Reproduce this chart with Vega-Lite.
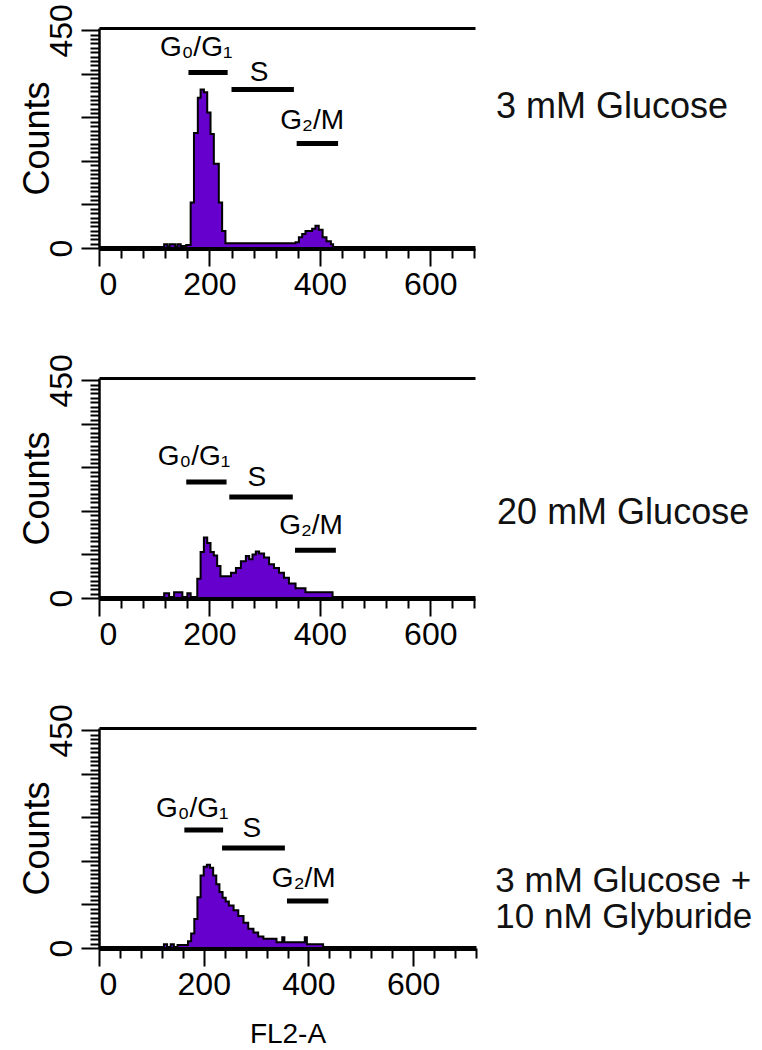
{
  "$schema": "https://vega.github.io/schema/vega-lite/v6.json",
  "background": "white",
  "padding": {"top": 3, "left": 19, "right": 0, "bottom": 0},
  "spacing": 130,
  "bounds": "flush",
  "config": {
    "view": {"stroke": null},
    "axis": {"labelColor": "black", "tickColor": "black", "domainColor": "black", "titleColor": "black", "grid": false, "labelFont": "Liberation Sans", "titleFont": "Liberation Sans", "titleFontWeight": "normal"}
  },
  "datasets": {
    "h1": [{"x":112,"y":0},{"x":118,"y":8},{"x":124,"y":0},{"x":128,"y":8},{"x":138,"y":0},{"x":142,"y":8},{"x":148,"y":4},{"x":158,"y":6},{"x":166,"y":94},{"x":172,"y":238},{"x":179,"y":311},{"x":184,"y":328},{"x":190,"y":322},{"x":196,"y":280},{"x":202,"y":236},{"x":208,"y":174},{"x":217,"y":94},{"x":223,"y":35},{"x":229,"y":10},{"x":356,"y":12},{"x":362,"y":22},{"x":368,"y":29},{"x":374,"y":35},{"x":386,"y":40},{"x":392,"y":46},{"x":398,"y":38},{"x":405,"y":22},{"x":412,"y":14},{"x":420,"y":8},{"x":424,"y":0}],
    "h2": [{"x":112,"y":0},{"x":118,"y":10},{"x":127,"y":0},{"x":136,"y":12},{"x":151,"y":0},{"x":160,"y":10},{"x":166,"y":0},{"x":178,"y":40},{"x":184,"y":95},{"x":190,"y":125},{"x":196,"y":114},{"x":202,"y":95},{"x":208,"y":88},{"x":214,"y":66},{"x":220,"y":45},{"x":239,"y":52},{"x":248,"y":62},{"x":257,"y":76},{"x":266,"y":87},{"x":272,"y":80},{"x":278,"y":90},{"x":284,"y":96},{"x":290,"y":92},{"x":299,"y":84},{"x":308,"y":70},{"x":317,"y":62},{"x":326,"y":52},{"x":335,"y":42},{"x":344,"y":30},{"x":356,"y":20},{"x":374,"y":12},{"x":423,"y":0}],
    "h3": [{"x":118,"y":0},{"x":124,"y":8},{"x":130,"y":0},{"x":137,"y":8},{"x":143,"y":0},{"x":150,"y":6},{"x":162,"y":6},{"x":170,"y":14},{"x":176,"y":30},{"x":182,"y":60},{"x":188,"y":105},{"x":194,"y":150},{"x":200,"y":168},{"x":206,"y":172},{"x":212,"y":166},{"x":218,"y":150},{"x":224,"y":132},{"x":230,"y":116},{"x":236,"y":104},{"x":242,"y":96},{"x":248,"y":88},{"x":257,"y":78},{"x":266,"y":66},{"x":276,"y":52},{"x":285,"y":40},{"x":295,"y":32},{"x":304,"y":24},{"x":314,"y":19},{"x":339,"y":12},{"x":350,"y":22},{"x":354,"y":12},{"x":393,"y":22},{"x":397,"y":8},{"x":428,"y":0}],
    "b1": [{"x":162,"x2":233,"y":363},{"x":240,"x2":353,"y":328},{"x":358,"x2":433,"y":216}],
    "l1": [{"x":176,"y":397,"t":"G₀/G₁"},{"x":290,"y":345,"t":"S"},{"x":386,"y":246,"t":"G₂/M"}],
    "c1": [{"x":719,"y":269,"t":"3 mM Glucose"}],
    "b2": [{"x":158,"x2":231,"y":240},{"x":236,"x2":351,"y":209},{"x":355,"x2":429,"y":99}],
    "l2": [{"x":172,"y":275,"t":"G₀/G₁"},{"x":286,"y":232,"t":"S"},{"x":384,"y":132,"t":"G₂/M"}],
    "c2": [{"x":721,"y":153,"t":"20 mM Glucose"}],
    "b3": [{"x":163,"x2":237,"y":244},{"x":235,"x2":355,"y":207},{"x":359,"x2":438,"y":97}],
    "l3": [{"x":178,"y":271,"t":"G₀/G₁"},{"x":292,"y":230,"t":"S"},{"x":391,"y":126,"t":"G₂/M"}],
    "c3": [{"x":757,"y":116,"t":"3 mM Glucose +"},{"x":757,"y":41,"t":"10 nM Glyburide"}]
  },
  "vconcat": [
    {
      "width": 376, "height": 220,
      "resolve": {"axis": {"x": "independent"}},
      "encoding": {"y": {"field": "y", "type": "quantitative", "scale": {"domain": [0, 455], "nice": false}, "axis": {"title": "Counts", "titleFontSize": 36, "titlePadding": -11, "values": [0,9,18,27,36,45,54,63,72,81,90,99,108,117,126,135,144,153,162,171,180,189,198,207,216,225,234,243,252,261,270,279,288,297,306,315,324,333,342,351,360,369,378,387,396,405,414,423,432,441,450], "labelExpr": "datum.value == 0 || datum.value == 450 ? datum.label : ''", "labelAngle": -90, "labelAlign": "center", "labelBaseline": "bottom", "labelFontSize": 32, "labelPadding": 3, "tickWidth": 2, "tickSize": {"condition": {"test": "datum.value % 90 == 0", "value": 18}, "value": 9}, "domainWidth": 2.5}}},
      "layer": [
        {"data": {"name": "h1"}, "mark": {"type": "area", "interpolate": "step-after", "fill": "#6600cc", "stroke": "black", "strokeWidth": 2},
         "encoding": {"x": {"field": "x", "type": "quantitative", "scale": {"domain": [0, 681], "nice": false, "zero": false}, "axis": {"title": null, "values": [0,40,80,120,160,200,240,280,320,360,400,440,480,520,560,600,640,680], "labelExpr": "datum.value % 200 == 0 ? datum.label : ''", "labelFontSize": 32, "labelPadding": 3, "tickWidth": 2, "tickSize": {"condition": {"test": "datum.value % 200 == 0", "value": 18}, "value": 10}, "domainWidth": 5}}}},
        {"data": {"name": "b1"}, "mark": {"type": "rule", "strokeWidth": 5, "color": "black"},
         "encoding": {"x": {"field": "x", "type": "quantitative", "axis": {"orient": "top", "labels": false, "ticks": false, "title": null, "domainWidth": 3}}, "x2": {"field": "x2"}}},
        {"data": {"name": "l1"}, "mark": {"type": "text", "font": "Liberation Sans", "fontSize": 28, "align": "center", "baseline": "alphabetic", "color": "black"},
         "encoding": {"x": {"field": "x", "type": "quantitative", "axis": null}, "text": {"field": "t"}}},
        {"data": {"name": "c1"}, "mark": {"type": "text", "font": "Liberation Sans", "fontSize": 36, "align": "left", "baseline": "alphabetic", "color": "#111111"},
         "encoding": {"x": {"field": "x", "type": "quantitative", "axis": null}, "text": {"field": "t"}}}
      ]
    },
    {
      "width": 376, "height": 220,
      "resolve": {"axis": {"x": "independent"}},
      "encoding": {"y": {"field": "y", "type": "quantitative", "scale": {"domain": [0, 455], "nice": false}, "axis": {"title": "Counts", "titleFontSize": 36, "titlePadding": -11, "values": [0,9,18,27,36,45,54,63,72,81,90,99,108,117,126,135,144,153,162,171,180,189,198,207,216,225,234,243,252,261,270,279,288,297,306,315,324,333,342,351,360,369,378,387,396,405,414,423,432,441,450], "labelExpr": "datum.value == 0 || datum.value == 450 ? datum.label : ''", "labelAngle": -90, "labelAlign": "center", "labelBaseline": "bottom", "labelFontSize": 32, "labelPadding": 3, "tickWidth": 2, "tickSize": {"condition": {"test": "datum.value % 90 == 0", "value": 18}, "value": 9}, "domainWidth": 2.5}}},
      "layer": [
        {"data": {"name": "h2"}, "mark": {"type": "area", "interpolate": "step-after", "fill": "#6600cc", "stroke": "black", "strokeWidth": 2},
         "encoding": {"x": {"field": "x", "type": "quantitative", "scale": {"domain": [0, 681], "nice": false, "zero": false}, "axis": {"title": null, "values": [0,40,80,120,160,200,240,280,320,360,400,440,480,520,560,600,640,680], "labelExpr": "datum.value % 200 == 0 ? datum.label : ''", "labelFontSize": 32, "labelPadding": 3, "tickWidth": 2, "tickSize": {"condition": {"test": "datum.value % 200 == 0", "value": 18}, "value": 10}, "domainWidth": 5}}}},
        {"data": {"name": "b2"}, "mark": {"type": "rule", "strokeWidth": 5, "color": "black"},
         "encoding": {"x": {"field": "x", "type": "quantitative", "axis": {"orient": "top", "labels": false, "ticks": false, "title": null, "domainWidth": 3}}, "x2": {"field": "x2"}}},
        {"data": {"name": "l2"}, "mark": {"type": "text", "font": "Liberation Sans", "fontSize": 28, "align": "center", "baseline": "alphabetic", "color": "black"},
         "encoding": {"x": {"field": "x", "type": "quantitative", "axis": null}, "text": {"field": "t"}}},
        {"data": {"name": "c2"}, "mark": {"type": "text", "font": "Liberation Sans", "fontSize": 36, "align": "left", "baseline": "alphabetic", "color": "#111111"},
         "encoding": {"x": {"field": "x", "type": "quantitative", "axis": null}, "text": {"field": "t"}}}
      ]
    },
    {
      "width": 377, "height": 220,
      "resolve": {"axis": {"x": "independent"}},
      "encoding": {"y": {"field": "y", "type": "quantitative", "scale": {"domain": [0, 455], "nice": false}, "axis": {"title": "Counts", "titleFontSize": 36, "titlePadding": -11, "values": [0,9,18,27,36,45,54,63,72,81,90,99,108,117,126,135,144,153,162,171,180,189,198,207,216,225,234,243,252,261,270,279,288,297,306,315,324,333,342,351,360,369,378,387,396,405,414,423,432,441,450], "labelExpr": "datum.value == 0 || datum.value == 450 ? datum.label : ''", "labelAngle": -90, "labelAlign": "center", "labelBaseline": "bottom", "labelFontSize": 32, "labelPadding": 3, "tickWidth": 2, "tickSize": {"condition": {"test": "datum.value % 90 == 0", "value": 18}, "value": 9}, "domainWidth": 2.5}}},
      "layer": [
        {"data": {"name": "h3"}, "mark": {"type": "area", "interpolate": "step-after", "fill": "#6600cc", "stroke": "black", "strokeWidth": 2},
         "encoding": {"x": {"field": "x", "type": "quantitative", "scale": {"domain": [0, 720], "nice": false, "zero": false}, "axis": {"title": "FL2-A", "titleFontSize": 28, "titlePadding": 20, "values": [0,40,80,120,160,200,240,280,320,360,400,440,480,520,560,600,640,680,720], "labelExpr": "datum.value % 200 == 0 ? datum.label : ''", "labelFontSize": 32, "labelPadding": 3, "tickWidth": 2, "tickSize": {"condition": {"test": "datum.value % 200 == 0", "value": 18}, "value": 10}, "domainWidth": 5}}}},
        {"data": {"name": "b3"}, "mark": {"type": "rule", "strokeWidth": 5, "color": "black"},
         "encoding": {"x": {"field": "x", "type": "quantitative", "axis": {"orient": "top", "labels": false, "ticks": false, "title": null, "domainWidth": 3}}, "x2": {"field": "x2"}}},
        {"data": {"name": "l3"}, "mark": {"type": "text", "font": "Liberation Sans", "fontSize": 28, "align": "center", "baseline": "alphabetic", "color": "black"},
         "encoding": {"x": {"field": "x", "type": "quantitative", "axis": null}, "text": {"field": "t"}}},
        {"data": {"name": "c3"}, "mark": {"type": "text", "font": "Liberation Sans", "fontSize": 35, "align": "left", "baseline": "alphabetic", "color": "#111111"},
         "encoding": {"x": {"field": "x", "type": "quantitative", "axis": null}, "text": {"field": "t"}}}
      ]
    }
  ]
}
